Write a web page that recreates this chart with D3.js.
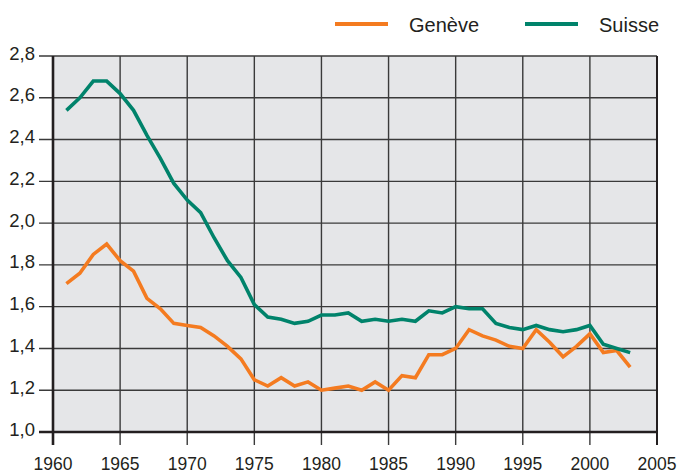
<!DOCTYPE html>
<html>
<head>
<meta charset="utf-8">
<script src="https://cdn.jsdelivr.net/npm/d3@7"></script>
<style>
  body { margin: 0; background: #fff; }
  text { font-family: "Liberation Sans", Arial, sans-serif; fill: #231f20; }
</style>
</head>
<body>
<div id="chart"></div>
<script>
// data: total fertility rate, Genève vs Suisse
var years = d3.range(1961, 2004);
var geneve = [1.71, 1.76, 1.85, 1.90, 1.82, 1.77, 1.64, 1.59, 1.52, 1.51,
              1.50, 1.46, 1.41, 1.35, 1.25, 1.22, 1.26, 1.22, 1.24, 1.20,
              1.21, 1.22, 1.20, 1.24, 1.20, 1.27, 1.26, 1.37, 1.37, 1.40,
              1.49, 1.46, 1.44, 1.41, 1.40, 1.49, 1.43, 1.36, 1.41, 1.47,
              1.38, 1.39, 1.31];
var suisse = [2.54, 2.60, 2.68, 2.68, 2.62, 2.54, 2.42, 2.31, 2.19, 2.11,
              2.05, 1.93, 1.82, 1.74, 1.61, 1.55, 1.54, 1.52, 1.53, 1.56,
              1.56, 1.57, 1.53, 1.54, 1.53, 1.54, 1.53, 1.58, 1.57, 1.60,
              1.59, 1.59, 1.52, 1.50, 1.49, 1.51, 1.49, 1.48, 1.49, 1.51,
              1.42, 1.40, 1.38];
var xTicks = [1960, 1965, 1970, 1975, 1980, 1985, 1990, 1995, 2000, 2005];
var yTicks = [1.0, 1.2, 1.4, 1.6, 1.8, 2.0, 2.2, 2.4, 2.6, 2.8];
var seriesNames = ["Genève", "Suisse"];
var seriesColors = ["#f47b20", "#00836b"];

var width = 679, height = 473;
var margin = {top: 56, right: 22, bottom: 41, left: 53};
var plotW = width - margin.left - margin.right;
var plotH = height - margin.top - margin.bottom;

var svg = d3.select("#chart").append("svg")
    .attr("width", width)
    .attr("height", height);

var x = d3.scaleLinear().domain([1960, 2005]).range([margin.left, margin.left + plotW]);
var y = d3.scaleLinear().domain([1.0, 2.8]).range([margin.top + plotH, margin.top]);

//plot background
svg.append("rect")
    .attr("x", x(1960))
    .attr("y", y(2.8))
    .attr("width", x(2005) - x(1960))
    .attr("height", y(1.0) - y(2.8))
    .attr("fill", "#e5e6e8");

//horizontal grid lines with ticks to the left
svg.selectAll(".hgrid")
    .data(yTicks)
    .enter()
    .append("line")
    .attr("class", "hgrid")
    .attr("x1", x(1960) - 14)
    .attr("x2", x(2005))
    .attr("y1", d => y(d))
    .attr("y2", d => y(d))
    .attr("stroke", "#3a3a3a")
    .attr("stroke-width", 1.4);

//vertical grid lines with ticks below
svg.selectAll(".vgrid")
    .data(xTicks)
    .enter()
    .append("line")
    .attr("class", "vgrid")
    .attr("x1", d => x(d))
    .attr("x2", d => x(d))
    .attr("y1", y(2.8))
    .attr("y2", y(1.0) + 13)
    .attr("stroke", "#3a3a3a")
    .attr("stroke-width", 1.4);

//axes lines (thicker)
svg.append("line")
    .attr("x1", x(1960)).attr("x2", x(1960))
    .attr("y1", y(2.8)).attr("y2", y(1.0) + 13)
    .attr("stroke", "#231f20").attr("stroke-width", 2.6);
svg.append("line")
    .attr("x1", x(1960) - 14).attr("x2", x(2005))
    .attr("y1", y(1.0)).attr("y2", y(1.0))
    .attr("stroke", "#231f20").attr("stroke-width", 2.6);
svg.append("line")
    .attr("x1", x(2005)).attr("x2", x(2005))
    .attr("y1", y(2.8)).attr("y2", y(1.0) + 13)
    .attr("stroke", "#231f20").attr("stroke-width", 2);

//tick labels
var fmt = d3.format(".1f");
svg.selectAll(".ylab")
    .data(yTicks)
    .enter()
    .append("text")
    .attr("class", "ylab")
    .attr("x", x(1960) - 18)
    .attr("y", d => y(d) + 3.5)
    .attr("text-anchor", "end")
    .style("font-size", "18.5px")
    .text(d => fmt(d).replace(".", ","));

svg.selectAll(".xlab")
    .data(xTicks)
    .enter()
    .append("text")
    .attr("class", "xlab")
    .attr("x", d => x(d))
    .attr("y", 470)
    .attr("text-anchor", "middle")
    .style("font-size", "17.5px")
    .text(d => d);

//series lines
var line = d3.line()
    .x((d, i) => x(years[i]))
    .y(d => y(d));

[geneve, suisse].forEach(function(values, k){
    svg.append("path")
        .datum(values)
        .attr("d", line)
        .attr("fill", "none")
        .attr("stroke", seriesColors[k])
        .attr("stroke-width", 3.6)
        .attr("stroke-linejoin", "miter");
});

//legend
var legendX = [335, 525];
seriesNames.forEach(function(name, k){
    svg.append("line")
        .attr("x1", legendX[k]).attr("x2", legendX[k] + 53)
        .attr("y1", 24).attr("y2", 24)
        .attr("stroke", seriesColors[k])
        .attr("stroke-width", 4);
    svg.append("text")
        .attr("x", legendX[k] + 74)
        .attr("y", 31.5)
        .style("font-size", "20px")
        .text(name);
});
</script>
</body>
</html>
